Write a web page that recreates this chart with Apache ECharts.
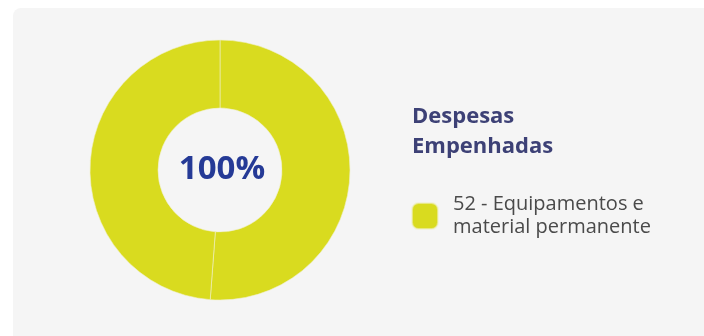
<!DOCTYPE html>
<html><head><meta charset="utf-8">
<script src="https://cdn.jsdelivr.net/npm/echarts@6/dist/echarts.min.js"></script>
<style>html,body{margin:0;padding:0;background:#fff}#c{width:704px;height:336px}</style>
</head><body><div id="c"></div>
<script>
const titleText = 'Despesas\nEmpenhadas';
const centerLabel = '100%';
const legendName = '52 - Equipamentos e material permanente';
const sliceNames = ['52 - Equipamentos e material permanente', '52 - Equipamentos e material permanente'];
const sliceValues = [51.2, 48.8];
const sliceColor = '#d9db1f';
const FONT = '"Open Sans", "Noto Sans", sans-serif';

const chart = echarts.init(document.getElementById('c'), null, {renderer: 'canvas'});
chart.setOption({
  backgroundColor: '#ffffff',
  animation: false,
  graphic: [
    {type: 'rect', z: -10, shape: {x: 13, y: 8, width: 720, height: 360, r: 8}, style: {fill: '#f5f5f5'}},
    {type: 'text', z: 10, x: 222, y: 170, style: {text: centerLabel, align: 'center', verticalAlign: 'middle', font: 'bold 33px ' + FONT, fill: '#253a96'}}
  ],
  title: {
    text: titleText, left: 412, top: 102, padding: 0,
    textStyle: {fontFamily: FONT, fontWeight: 'bold', fontSize: 22, lineHeight: 30, color: '#3d4176'}
  },
  legend: {
    left: 411, top: 193, padding: 0, orient: 'vertical', itemWidth: 26, itemHeight: 26, itemGap: 10,
    icon: 'roundRect',
    data: [legendName],
    formatter: function (n) { return n.replace(' e ', ' e\n'); },
    textStyle: {fontFamily: FONT, fontSize: 20, lineHeight: 23, color: '#4a4a4a', padding: [0, 0, 0, 10]}
  },
  series: [{
    type: 'pie', center: [220, 170], radius: [62, 130], startAngle: 90, clockwise: true,
    label: {show: false}, labelLine: {show: false}, emphasis: {disabled: true},
    itemStyle: {color: sliceColor, borderColor: 'rgba(240,240,200,0.6)', borderWidth: 1},
    data: sliceNames.map((n, i) => ({name: n, value: sliceValues[i]}))
  }]
});
</script></body></html>
